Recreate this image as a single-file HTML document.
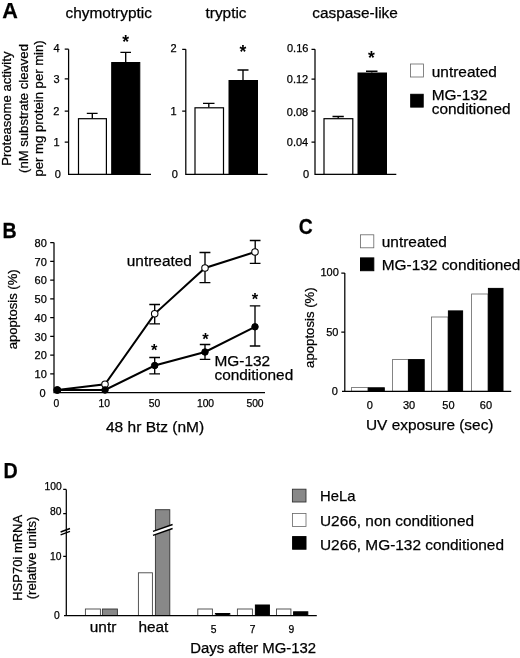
<!DOCTYPE html>
<html>
<head>
<meta charset="utf-8">
<title>Figure</title>
<style>
html,body{margin:0;padding:0;background:#fff;}
body{width:520px;height:658px;overflow:hidden;}
svg{display:block;filter:blur(0.35px);font-family:"Liberation Sans",sans-serif;fill:#000;}
text{stroke:#000;stroke-width:0.25px;}
.ax{stroke:#000;stroke-width:1.25;fill:none;}
.ln{stroke:#000;stroke-width:2;fill:none;}
.eb{stroke:#000;stroke-width:1.35;fill:none;}
.wb{fill:#fff;stroke:#000;stroke-width:1.2;}
.bb{fill:#000;stroke:#000;stroke-width:1;}
.wc{fill:#fff;stroke:#666;stroke-width:0.8;}
.wd{fill:#fff;stroke:#444;stroke-width:0.9;}
.gb{fill:#888;stroke:#333;stroke-width:0.9;}
.t15{font-size:15.4px;}
.t11{font-size:11px;}
.t10{font-size:10.3px;}
.pl{font-size:21.6px;font-weight:bold;}
.st{font-size:17.5px;font-weight:bold;text-anchor:middle;stroke:none;}
</style>
</head>
<body>
<svg width="520" height="658" viewBox="0 0 520 658">
<rect x="0" y="0" width="520" height="658" fill="#fff" stroke="none"/>

<!-- ================= PANEL A ================= -->
<text class="pl" x="2.2" y="17.7">A</text>
<text class="t15" x="65.5" y="17.5">chymotryptic</text>
<text class="t15" x="205.5" y="17.5">tryptic</text>
<text class="t15" x="312.3" y="17.5">caspase-like</text>

<!-- y label -->
<g style="font-size:13.1px" text-anchor="middle">
<text transform="translate(10.9,108.7) rotate(-90)">Proteasome activity</text>
<text transform="translate(28.2,108.5) rotate(-90)">(nM substrate cleaved</text>
<text transform="translate(42.8,108.4) rotate(-90)">per mg protein per min)</text>
</g>

<!-- chymotryptic -->
<path class="ax" d="M68.6,49.2V174.3H151 M64.7,49.2H68.6 M64.7,78.9H68.6 M64.7,111H68.6 M64.7,142.1H68.6"/>
<g class="t11" text-anchor="end">
<text x="59.5" y="51.6">4</text><text x="59.7" y="82.9">3</text><text x="59.4" y="115.2">2</text><text x="59.6" y="146">1</text><text x="60.8" y="177.8">0</text>
</g>
<path class="eb" d="M92.3,118.5V113.3 M86.8,113.3H97.6"/>
<rect class="wb" x="78.5" y="118.7" width="27.9" height="55.6"/>
<path class="eb" d="M125.7,62V52.3 M120.4,52.3H131"/>
<rect class="bb" x="111.7" y="62.5" width="28.1" height="111.8"/>
<text class="st" x="125.6" y="48.4">*</text>

<!-- tryptic -->
<path class="ax" d="M185.8,49.3V174.3H267.5 M182.2,49.3H185.8 M182.2,111.2H185.8"/>
<g class="t11" text-anchor="end">
<text x="176.5" y="51.8">2</text><text x="176.5" y="115.2">1</text><text x="177.8" y="177.8">0</text>
</g>
<path class="eb" d="M208.8,107.5V103.3 M203,103.3H214.5"/>
<rect class="wb" x="195" y="107.8" width="28.5" height="66.5"/>
<path class="eb" d="M243,80V70 M237.5,70H248.5"/>
<rect class="bb" x="229" y="80.5" width="28.5" height="93.8"/>
<text class="st" x="243" y="58.2">*</text>

<!-- caspase-like -->
<path class="ax" d="M315,49.3V174.3H396.3 M311.5,49.3H315 M311.5,79H315 M311.5,111.2H315 M311.5,142H315"/>
<g class="t11" text-anchor="end">
<text x="308.4" y="51.7">0.16</text><text x="308.2" y="83.4">0.12</text><text x="308.2" y="115.5">0.08</text><text x="308.2" y="146.4">0.04</text><text x="309" y="178.2">0</text>
</g>
<path class="eb" d="M338.2,118.5V116.5 M332.5,116.5H343.8"/>
<rect class="wb" x="324" y="118.7" width="28.8" height="55.6"/>
<path class="eb" d="M371.8,72.5V71.2 M366,71.2H377.5"/>
<rect class="bb" x="358" y="73" width="28.5" height="101.3"/>
<text class="st" x="371.3" y="64.4">*</text>

<!-- legend A -->
<rect class="wc" x="410.4" y="64" width="13" height="13"/>
<rect class="bb" x="410.7" y="94.3" width="12.5" height="12.8"/>
<text class="t15" x="431.8" y="77">untreated</text>
<text class="t15" x="431.8" y="99.6">MG-132</text>
<text class="t15" x="431.8" y="114.1">conditioned</text>

<!-- ================= PANEL B ================= -->
<text class="pl" transform="translate(2.5,237.7) scale(0.907,1)">B</text>
<path class="ax" d="M54,242.5V392.7H265 M50.2,242.5H53.8 M50.2,261.3H53.8 M50.2,280H53.8 M50.2,298.8H53.8 M50.2,317.5H53.8 M50.2,336.3H53.8 M50.2,355H53.8 M50.2,373.8H53.8"/>
<g class="t11" text-anchor="end">
<text x="46.8" y="246.8">80</text><text x="46.8" y="265.6">70</text><text x="46.8" y="284.3">60</text><text x="46.8" y="303.1">50</text><text x="46.8" y="321.8">40</text><text x="46.8" y="340.6">30</text><text x="46.8" y="359.3">20</text><text x="46.8" y="378.1">10</text><text x="45.6" y="396.8">0</text>
</g>
<text class="t15" text-anchor="middle" transform="translate(17.2,309.3) rotate(-90)" style="font-size:13.1px">apoptosis (%)</text>
<g class="t10" text-anchor="middle">
<text x="56.3" y="407.3">0</text><text x="104.3" y="407.3">10</text><text x="154.5" y="407.3">50</text><text x="205.5" y="407.3">100</text><text x="255" y="407.3">500</text>
</g>
<text class="t15" x="106" y="431.8" style="font-size:15.5px">48 hr Btz (nM)</text>

<!-- error bars -->
<path class="eb" d="M154.7,304.5V323.8 M149.3,304.5H160 M149.3,323.8H160
 M205,252.5V282.6 M199.5,252.5H210.4 M199.5,282.6H210.4
 M255.2,240.5V263.3 M249.8,240.5H260.5 M249.8,263.3H260.5
 M154.7,357.5V373.8 M149.3,357.5H160 M149.3,373.8H160
 M205,344.5V359.3 M199.8,344.5H210.3 M199.8,359.3H210.3
 M255,305.9V346 M249.8,305.9H260.3 M249.8,346H260.3"/>
<!-- lines -->
<polyline class="ln" points="57.3,390 105,384.3 154.7,313.8 205,268 255,252"/>
<polyline class="ln" points="57.3,390 105,390 154.7,365.5 205,352 255,326.8"/>
<!-- points -->
<g fill="#fff" stroke="#000" stroke-width="1.05">
<circle cx="57.3" cy="390" r="3.25"/><circle cx="105" cy="384.3" r="3.25"/><circle cx="154.7" cy="313.8" r="3.25"/><circle cx="205" cy="268" r="3.25"/><circle cx="255" cy="252" r="3.25"/>
</g>
<g fill="#000" stroke="#000" stroke-width="1">
<circle cx="57.3" cy="390" r="3.25"/><circle cx="105" cy="390" r="3.25"/><circle cx="154.7" cy="365.5" r="3.25"/><circle cx="205" cy="352" r="3.25"/><circle cx="255" cy="326.8" r="3.25"/>
</g>
<text class="st" style="font-size:16.5px" x="154.3" y="356.4">*</text>
<text class="st" style="font-size:16.5px" x="205.5" y="344.9">*</text>
<text class="st" style="font-size:16.5px" x="255" y="305.0">*</text>
<text class="t15" x="126.8" y="265.5">untreated</text>
<text class="t15" x="214.5" y="365.7">MG-132</text>
<text class="t15" x="214.5" y="380.3">conditioned</text>

<!-- ================= PANEL C ================= -->
<text class="pl" transform="translate(298.7,233.8) scale(0.896,1)">C</text>
<rect class="wc" x="360.4" y="234.8" width="13.4" height="13"/>
<rect class="bb" x="360.5" y="257.9" width="13.3" height="12.8"/>
<text class="t15" x="381.8" y="247">untreated</text>
<text class="t15" x="381.8" y="270.3">MG-132 conditioned</text>

<g class="t11" text-anchor="end">
<text x="338.8" y="276.4">100</text><text x="338.4" y="336">50</text><text x="337.9" y="394.8">0</text>
</g>
<text class="t15" text-anchor="middle" transform="translate(313.9,327.6) rotate(-90)" style="font-size:13.2px">apoptosis (%)</text>

<rect class="wc" x="351.5" y="387.6" width="16.5" height="3.7"/>
<rect class="bb" x="368.3" y="387.8" width="16" height="3.5"/>
<rect class="wc" x="392.6" y="359.4" width="15.6" height="31.9"/>
<rect class="bb" x="408.6" y="359.6" width="15.6" height="31.7"/>
<rect class="wc" x="431.5" y="317" width="16.5" height="74.3"/>
<rect class="bb" x="448.4" y="310.9" width="14.2" height="80.4"/>
<rect class="wc" x="471.6" y="294" width="16.4" height="97.3"/>
<rect class="bb" x="488.4" y="288.4" width="14.6" height="102.9"/>

<path class="ax" d="M344.8,273V391.3 M342,391.3H511.2 M341.3,273H344.8 M341.3,332H344.8"/>
<g class="t11" text-anchor="middle">
<text x="369.8" y="409.4">0</text><text x="409" y="409.4">30</text><text x="448.4" y="409.4">50</text><text x="485.9" y="409.4">60</text>
</g>
<text class="t15" x="366" y="430">UV exposure (sec)</text>

<!-- ================= PANEL D ================= -->
<text class="pl" transform="translate(3.6,477.7) scale(0.912,1)">D</text>
<path class="eb" d="M60.6,532L70,528.5 M60.6,534.9L70,531.4"/>
<g class="t10" text-anchor="end">
<text x="61.7" y="489.5">100</text><text x="61.5" y="514.8">80</text><text x="61.5" y="560">10</text><text x="59.8" y="618.7">0</text>
</g>
<g style="font-size:13px" text-anchor="middle">
<text transform="translate(22.1,557.8) rotate(-90)">HSP70i mRNA</text>
<text transform="translate(36.2,557.9) rotate(-90)" style="font-size:13.2px">(relative units)</text>
</g>

<rect class="wd" x="85.4" y="609" width="15" height="6.5"/>
<rect class="gb" x="102.4" y="609" width="15" height="6.5"/>
<rect class="wd" x="138.4" y="572.8" width="14" height="42.7"/>
<rect class="gb" x="155.4" y="509.7" width="14.4" height="105.8"/>
<polygon points="152.8,531.5 172.6,524.5 172.6,528.6 152.8,535.4" fill="#fff" stroke="none"/>
<path class="eb" d="M153,531.4L172.6,524.5 M153,535.3L172.6,528.5"/>

<rect class="wd" x="197.8" y="609" width="14.6" height="6.5"/>
<rect class="bb" x="215.4" y="613.5" width="14.4" height="2"/>
<rect class="wd" x="237.4" y="609" width="15" height="6.5"/>
<rect class="bb" x="255.4" y="605" width="14" height="10.5"/>
<rect class="wd" x="276.5" y="609" width="14.4" height="6.5"/>
<rect class="bb" x="293.6" y="611.8" width="14.2" height="3.7"/>

<path class="ax" d="M66.3,489.4V615.5 M64,615.5H316.8 M63.2,489.4H66.3 M63.2,513.6H66.3 M63.2,556.3H66.3"/>
<text class="t15" x="89.8" y="631.8">untr</text>
<text class="t15" x="138.4" y="631.8">heat</text>
<g class="t10" text-anchor="middle">
<text x="213.6" y="632.7">5</text><text x="252.5" y="632.7">7</text><text x="291.3" y="632.7">9</text>
</g>
<text class="t15" x="190.3" y="652.9" style="font-size:14.9px">Days after MG-132</text>

<rect class="gb" x="292.4" y="489.2" width="13.6" height="12.8"/>
<rect class="wc" x="292.4" y="513.6" width="13.6" height="13"/>
<rect class="bb" x="292.6" y="536.6" width="13.4" height="12.6"/>
<text class="t15" x="320" y="501.2" style="font-size:14.8px">HeLa</text>
<text class="t15" x="320" y="525.5">U266, non conditioned</text>
<text class="t15" x="320" y="549.8">U266, MG-132 conditioned</text>
</svg>
</body>
</html>
